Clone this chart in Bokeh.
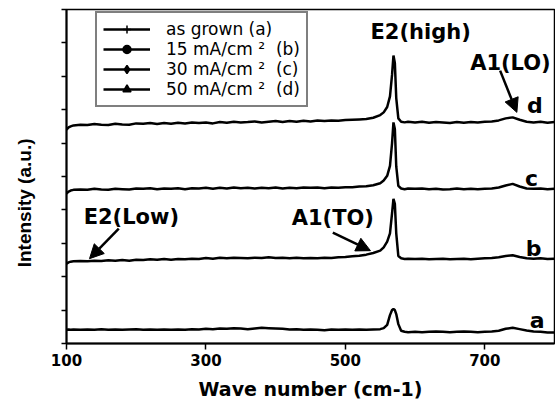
from bokeh.plotting import figure
from bokeh.models import (Range1d, FixedTicker, Legend, LegendItem, Arrow, NormalHead,
                          ColumnDataSource)
from bokeh.core.properties import value
from bokeh.embed import file_html
from bokeh.resources import INLINE

wavenumber = [100, 103, 106,
              110, 120, 130, 140, 150, 160, 170, 180, 190, 200,
              210, 220, 230, 240, 250, 260, 270, 280, 290, 300,
              310, 320, 330, 340, 350, 360, 370, 380, 390, 400,
              410, 420, 430, 440, 450, 460, 470, 480, 490, 500,
              510, 520, 530, 540,
              550, 555, 560, 564, 567, 569, 571, 573, 576, 580, 585, 590,
              600, 610, 620, 630, 640, 650, 660, 670, 680, 690, 700,
              710, 720, 730, 740, 750, 760, 770, 780, 790, 800]

int_d = [6.40, 6.47, 6.50,
         6.53, 6.55, 6.54, 6.57, 6.55, 6.54, 6.58, 6.56, 6.55, 6.59,
         6.58, 6.60, 6.57, 6.60, 6.58, 6.61, 6.59, 6.62, 6.60, 6.62,
         6.59, 6.63, 6.61, 6.64, 6.62, 6.63, 6.65, 6.62, 6.64, 6.66,
         6.63, 6.66, 6.64, 6.67, 6.65, 6.68, 6.66, 6.68, 6.67, 6.69,
         6.70, 6.71, 6.72, 6.76,
         6.84, 6.92, 7.08, 7.40, 8.05, 8.62, 8.40, 7.35, 6.74, 6.64, 6.62, 6.64,
         6.62, 6.64, 6.61, 6.63, 6.62, 6.60, 6.63, 6.61, 6.63, 6.62, 6.64,
         6.65, 6.68, 6.74, 6.77, 6.70, 6.64, 6.62, 6.64, 6.61, 6.63]

int_c = [4.49, 4.55, 4.58,
         4.60, 4.61, 4.60, 4.63, 4.61, 4.60, 4.63, 4.62, 4.61, 4.64,
         4.63, 4.65, 4.62, 4.64, 4.63, 4.65, 4.62, 4.65, 4.64, 4.66,
         4.63, 4.66, 4.64, 4.67, 4.65, 4.66, 4.64, 4.66, 4.65, 4.67,
         4.64, 4.66, 4.65, 4.67, 4.66, 4.67, 4.65, 4.67, 4.66, 4.68,
         4.68, 4.70, 4.71, 4.74,
         4.80, 4.88, 5.02, 5.32, 6.00, 6.62, 6.42, 5.30, 4.72, 4.64, 4.62, 4.64,
         4.63, 4.64, 4.62, 4.63, 4.61, 4.62, 4.64, 4.62, 4.63, 4.62, 4.63,
         4.64, 4.67, 4.73, 4.78, 4.70, 4.64, 4.63, 4.64, 4.62, 4.63]

int_b = [2.39, 2.43, 2.45,
         2.46, 2.47, 2.46, 2.48, 2.47, 2.49, 2.48, 2.50, 2.48, 2.51,
         2.50, 2.52, 2.51, 2.53, 2.51, 2.53, 2.52, 2.54, 2.53, 2.56,
         2.54, 2.57, 2.55, 2.57, 2.56, 2.55, 2.57, 2.56, 2.58, 2.56,
         2.57, 2.55, 2.57, 2.55, 2.56, 2.55, 2.57, 2.56, 2.58, 2.59,
         2.61, 2.63, 2.66, 2.71,
         2.78, 2.88, 3.05, 3.30, 3.90, 4.33, 4.18, 3.30, 2.62, 2.55, 2.53, 2.54,
         2.53, 2.54, 2.52, 2.53, 2.54, 2.52, 2.53, 2.54, 2.52, 2.54, 2.55,
         2.56, 2.58, 2.62, 2.64, 2.59, 2.55, 2.54, 2.55, 2.53, 2.54]

int_a = [0.41, 0.42, 0.41,
         0.42, 0.41, 0.42, 0.41, 0.43, 0.41, 0.42, 0.41, 0.42, 0.43,
         0.41, 0.42, 0.41, 0.42, 0.41, 0.42, 0.41, 0.43, 0.42, 0.44,
         0.43, 0.45, 0.44, 0.46, 0.45, 0.43, 0.45, 0.47, 0.46, 0.45,
         0.44, 0.42, 0.43, 0.41, 0.42, 0.41, 0.40, 0.42, 0.41, 0.42,
         0.41, 0.42, 0.41, 0.42,
         0.43, 0.46, 0.56, 0.85, 1.00, 1.03, 1.00, 0.88, 0.58, 0.38, 0.35, 0.34,
         0.35, 0.34, 0.35, 0.36, 0.35, 0.34, 0.35, 0.36, 0.35, 0.34, 0.35,
         0.36, 0.38, 0.44, 0.47, 0.43, 0.39, 0.36, 0.35, 0.33, 0.33]

series_labels = ["as grown (a)", "15 mA/cm\u00a0\u00b2\u00a0\u00a0(b)",
                 "30 mA/cm\u00a0\u00b2\u00a0\u00a0(c)", "50 mA/cm\u00a0\u00b2\u00a0\u00a0(d)"]
series_markers = ["cross", "circle", "diamond", "triangle"]
curve_letters = ["a", "b", "c", "d"]
x_ticks = [100, 300, 500, 700]
y_ticks = [0, 1, 2, 3, 4, 5, 6, 7, 8, 9, 10]

BOLD = "DejaVu Sans"

p = figure(width=555, height=403, output_backend="svg", toolbar_location=None,
           x_range=Range1d(100, 800), y_range=Range1d(0, 10),
           min_border_left=66, min_border_right=1, min_border_top=9, min_border_bottom=60)
p.background_fill_color = "white"
p.border_fill_color = "white"
p.outline_line_color = "black"
p.outline_line_width = 1.5
p.grid.visible = False

p.xaxis.ticker = FixedTicker(ticks=x_ticks)
p.xaxis.minor_tick_line_color = None
p.xaxis.major_tick_in = 0
p.xaxis.major_tick_out = 6
p.xaxis.major_label_text_font = BOLD
p.xaxis.major_label_text_font_style = "bold"
p.xaxis.major_label_text_font_size = "15px"
p.xaxis.major_label_text_color = "black"
p.xaxis.major_label_standoff = 4
p.xaxis.axis_label = "Wave number (cm-1)"
p.xaxis.axis_label_text_font = BOLD
p.xaxis.axis_label_text_font_style = "bold"
p.xaxis.axis_label_text_font_size = "19px"
p.xaxis.axis_label_text_color = "black"
p.xaxis.axis_label_standoff = 9

p.yaxis.ticker = FixedTicker(ticks=y_ticks)
p.yaxis.minor_tick_line_color = None
p.yaxis.major_tick_in = 0
p.yaxis.major_tick_out = 5
p.yaxis.major_label_text_font_size = "1px"
p.yaxis.major_label_text_color = None
p.yaxis.major_label_standoff = 0
# trailing no-break spaces shift the centred label down, as in the reference
p.yaxis.axis_label = "Intensity (a.u.)" + "\u00a0" * 10
p.yaxis.axis_label_text_font = "Liberation Sans"
p.yaxis.axis_label_text_font_style = "bold"
p.yaxis.axis_label_text_font_size = "19px"
p.yaxis.axis_label_text_color = "black"
p.yaxis.axis_label_standoff = 27

for ax in (p.xaxis, p.yaxis):
    ax.axis_line_width = 2
    ax.axis_line_color = "black"
    ax.major_tick_line_width = 1.5
    ax.major_tick_line_color = "black"

source = ColumnDataSource(dict(x=wavenumber, a=int_a, b=int_b, c=int_c, d=int_d))
marker_source = ColumnDataSource(dict(x=[float("nan")], y=[float("nan")]))
items = []
for letter, lab, mk in zip(curve_letters, series_labels, series_markers):
    r = p.line("x", letter, source=source, line_color="black", line_width=2.5)
    size = {"cross": 9, "circle": 12, "diamond": 10, "triangle": 10}[mk]
    s = p.scatter("x", "y", source=marker_source, marker=mk, size=size,
                  fill_color="black", line_color="black", line_width=1.5)
    items.append(LegendItem(label=lab, renderers=[r, s]))

legend = Legend(items=items, location=(29, 236), orientation="vertical",
                label_text_font="DejaVu Sans", label_text_font_size="17px",
                label_text_color="black", glyph_width=47, glyph_height=20,
                label_height=20, label_standoff=16, spacing=0, padding=6,
                margin=0, border_line_color="black", border_line_width=2,
                background_fill_alpha=1.0)
p.add_layout(legend, "center")

# peak annotations
p.text(x=[608], y=[9.34], text=["E2(high)"], text_align="center", text_baseline="middle",
       text_font=value(BOLD), text_font_style="bold", text_font_size="21px", text_color="black")
p.text(x=[679], y=[8.41], text=["A1(LO)"], text_align="left", text_baseline="middle",
       text_font=value(BOLD), text_font_style="bold", text_font_size="21px", text_color="black")
p.text(x=[193], y=[3.80], text=["E2(Low)"], text_align="center", text_baseline="middle",
       text_font=value(BOLD), text_font_style="bold", text_font_size="21px", text_color="black")
p.text(x=[482], y=[3.77], text=["A1(TO)"], text_align="center", text_baseline="middle",
       text_font=value(BOLD), text_font_style="bold", text_font_size="21px", text_color="black")

# curve letters
p.text(x=[775, 770, 767, 772], y=[0.69, 2.84, 4.94, 7.13], text=curve_letters,
       text_align="center", text_baseline="alphabetic",
       text_font=value(BOLD), text_font_style="bold", text_font_size="22px", text_color="black")

for (x0, y0, x1, y1) in [(722, 8.17, 746, 6.92), (175, 3.44, 133, 2.54), (482, 3.32, 536, 2.78)]:
    p.add_layout(Arrow(x_start=x0, y_start=y0, x_end=x1, y_end=y1, line_width=2.5,
                       line_color="black",
                       end=NormalHead(size=14, fill_color="black", line_color="black")))

open("out.html", "w").write(file_html(p, INLINE))
